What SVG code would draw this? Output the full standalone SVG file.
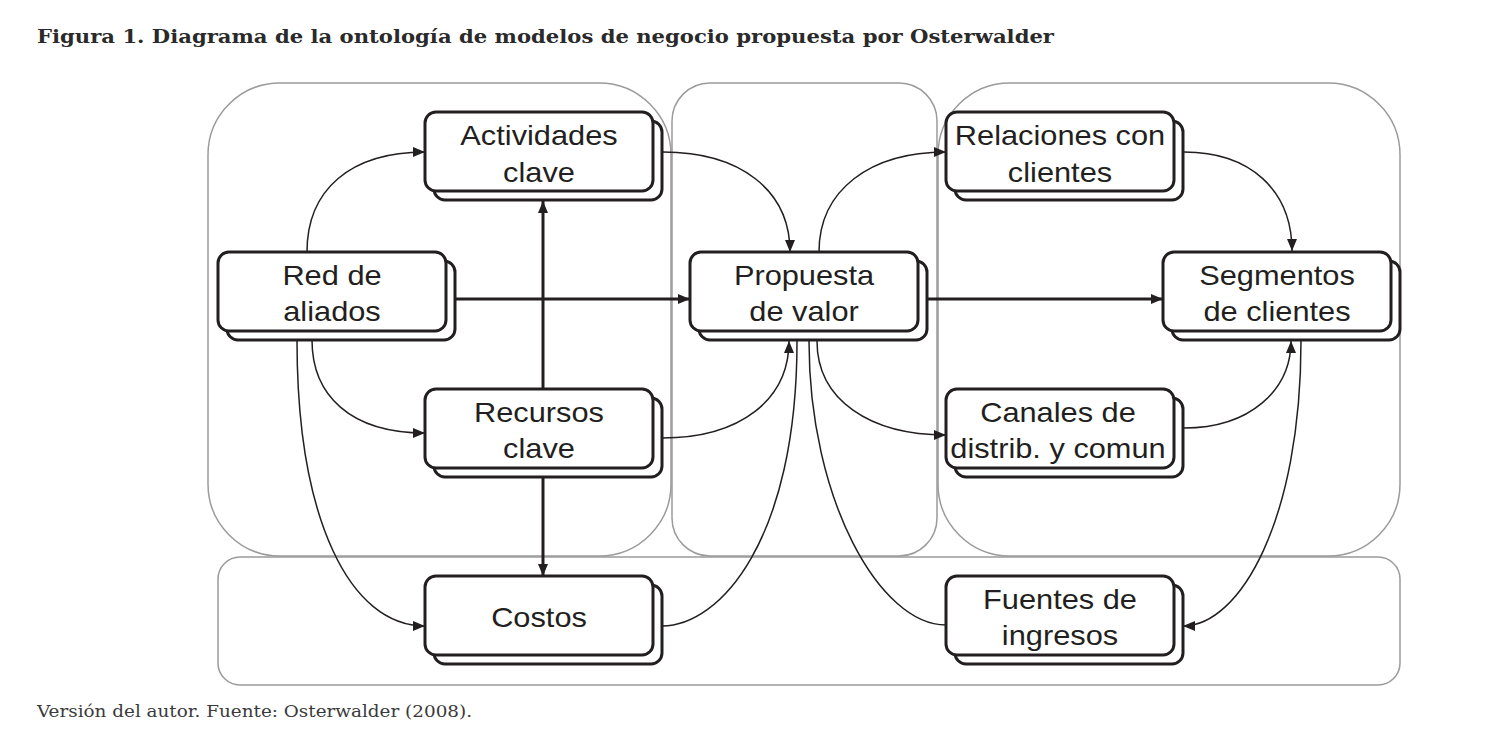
<svg xmlns="http://www.w3.org/2000/svg" width="1502" height="749" viewBox="0 0 1502 749">
<style>
.bg{fill:#ffffff}
.zone{fill:none;stroke:#9b9b9b;stroke-width:1.5}
.box{fill:#ffffff;stroke:#231f20;stroke-width:3}
.t{font-family:"Liberation Sans",Arial,sans-serif;font-size:27px;fill:#231f20;text-anchor:middle}
.thin{fill:none;stroke:#231f20;stroke-width:1.5}
.thick{fill:none;stroke:#231f20;stroke-width:3}
.title{font-family:"DejaVu Serif","Liberation Serif",serif;font-weight:bold;font-size:19px;fill:#2a2a2a}
.cap{font-family:"DejaVu Serif","Liberation Serif",serif;font-size:16px;fill:#3a3a3a}
</style>
<defs>
<marker id="arr" viewBox="0 0 12 10" refX="12" refY="5" markerWidth="12" markerHeight="10" markerUnits="userSpaceOnUse" orient="auto">
<path d="M0,0 L12,5 L0,10 z" fill="#231f20"/>
</marker>
</defs>
<rect class="bg" x="0" y="0" width="1502" height="749"/>
<text class="title" x="37" y="43" textLength="1017" lengthAdjust="spacingAndGlyphs">Figura 1. Diagrama de la ontología de modelos de negocio propuesta por Osterwalder</text>

<g id="zones">
<rect class="zone" x="208" y="83" width="463" height="473" rx="72" ry="72"/>
<rect class="zone" x="672" y="83" width="265" height="473" rx="38" ry="38"/>
<rect class="zone" x="938" y="83" width="462" height="473" rx="72" ry="72"/>
<rect class="zone" x="218" y="557" width="1182" height="128" rx="22" ry="22"/>
</g>

<g id="connectors">
<path class="thin" d="M307,252 C307,190 350,152 425,152" marker-end="url(#arr)"/>
<path class="thin" d="M663,152 C740,152 790,190 790,252" marker-end="url(#arr)"/>
<path class="thin" d="M819,252 C819,190 870,152 946,152" marker-end="url(#arr)"/>
<path class="thin" d="M1184,152 C1250,152 1292,190 1292,251" marker-end="url(#arr)"/>
<path class="thick" d="M454,299 L690,299" marker-end="url(#arr)"/>
<path class="thick" d="M927,299 L1163,299" marker-end="url(#arr)"/>
<path class="thick" d="M543,389 L543,201" marker-end="url(#arr)"/>
<path class="thick" d="M543,477 L543,576" marker-end="url(#arr)"/>
<path class="thin" d="M312,340 C312,395 350,433 425,433" marker-end="url(#arr)"/>
<path class="thin" d="M297,340 C297,520 350,626 425,626" marker-end="url(#arr)"/>
<path class="thin" d="M662,438 C740,438 789,400 789,341" marker-end="url(#arr)"/>
<path class="thin" d="M662,626 C720,626 797,540 797,341"/>
<path class="thin" d="M946,625 C880,625 809,500 809,341"/>
<path class="thin" d="M817,341 C817,400 870,435 946,435" marker-end="url(#arr)"/>
<path class="thin" d="M1184,428 C1250,428 1291,390 1291,341" marker-end="url(#arr)"/>
<path class="thin" d="M1301,341 C1301,520 1240,626 1183,626" marker-end="url(#arr)"/>
</g>

<g id="n-actividades">
<rect class="box" x="434" y="121" width="228" height="79" rx="11"/>
<rect class="box" x="425" y="112" width="228" height="79" rx="11"/>
<text class="t" transform="matrix(1.14 0 0 1 539 0)"><tspan x="0" y="145">Actividades</tspan><tspan x="0" y="182">clave</tspan></text>
</g>

<g id="n-red">
<rect class="box" x="227" y="261" width="228" height="79" rx="11"/>
<rect class="box" x="218" y="252" width="228" height="79" rx="11"/>
<text class="t" transform="matrix(1.14 0 0 1 332 0)"><tspan x="0" y="285">Red de</tspan><tspan x="0" y="321">aliados</tspan></text>
</g>

<g id="n-propuesta">
<rect class="box" x="699" y="261" width="228" height="79" rx="11"/>
<rect class="box" x="690" y="252" width="228" height="79" rx="11"/>
<text class="t" transform="matrix(1.14 0 0 1 804 0)"><tspan x="0" y="285">Propuesta</tspan><tspan x="0" y="321">de valor</tspan></text>
</g>

<g id="n-relaciones">
<rect class="box" x="955" y="121" width="228" height="79" rx="11"/>
<rect class="box" x="946" y="112" width="228" height="79" rx="11"/>
<text class="t" transform="matrix(1.14 0 0 1 1060 0)"><tspan x="0" y="145">Relaciones con</tspan><tspan x="0" y="182">clientes</tspan></text>
</g>

<g id="n-segmentos">
<rect class="box" x="1172" y="261" width="228" height="79" rx="11"/>
<rect class="box" x="1163" y="252" width="228" height="79" rx="11"/>
<text class="t" transform="matrix(1.14 0 0 1 1277 0)"><tspan x="0" y="285">Segmentos</tspan><tspan x="0" y="321">de clientes</tspan></text>
</g>

<g id="n-recursos">
<rect class="box" x="434" y="398" width="228" height="79" rx="11"/>
<rect class="box" x="425" y="389" width="228" height="79" rx="11"/>
<text class="t" transform="matrix(1.14 0 0 1 539 0)"><tspan x="0" y="422">Recursos</tspan><tspan x="0" y="458">clave</tspan></text>
</g>

<g id="n-canales">
<rect class="box" x="955" y="398" width="228" height="79" rx="11"/>
<rect class="box" x="946" y="389" width="228" height="79" rx="11"/>
<text class="t" transform="matrix(1.14 0 0 1 1058 0)"><tspan x="0" y="422">Canales de</tspan><tspan x="0" y="458">distrib. y comun</tspan></text>
</g>

<g id="n-costos">
<rect class="box" x="434" y="585" width="228" height="79" rx="11"/>
<rect class="box" x="425" y="576" width="228" height="79" rx="11"/>
<text class="t" transform="matrix(1.14 0 0 1 539 0)"><tspan x="0" y="627">Costos</tspan></text>
</g>

<g id="n-fuentes">
<rect class="box" x="955" y="585" width="228" height="79" rx="11"/>
<rect class="box" x="946" y="576" width="228" height="79" rx="11"/>
<text class="t" transform="matrix(1.14 0 0 1 1060 0)"><tspan x="0" y="609">Fuentes de</tspan><tspan x="0" y="645">ingresos</tspan></text>
</g>

<text class="cap" x="37" y="717" textLength="435" lengthAdjust="spacingAndGlyphs">Versión del autor. Fuente: Osterwalder (2008).</text>
</svg>
